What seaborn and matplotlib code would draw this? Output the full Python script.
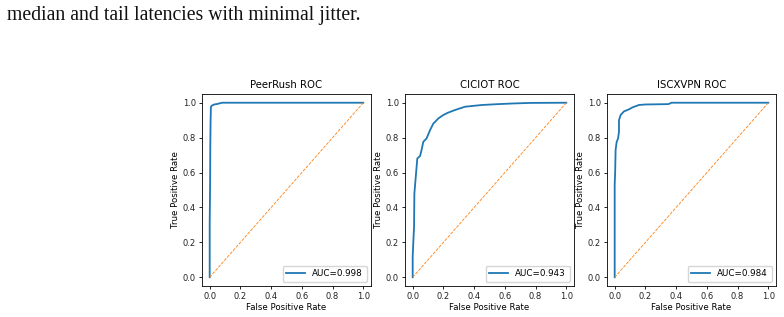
import seaborn as sns
import matplotlib.pyplot as plt

# ===== ROC points =====
titles = ["PeerRush ROC", "CICIOT ROC", "ISCXVPN ROC"]
auc_labels = ["AUC=0.998", "AUC=0.943", "AUC=0.984"]

peerrush_fpr = [0.0, 0.0, 0.003, 0.004, 0.006, 0.008, 0.012, 0.02, 0.03, 0.05, 0.08, 0.2, 1.0]
peerrush_tpr = [0.0, 0.3, 0.55, 0.75, 0.9, 0.975, 0.982, 0.986, 0.99, 0.993, 1.0, 1.0, 1.0]

ciciot_fpr = [0.0, 0.0, 0.004, 0.009, 0.011, 0.02, 0.03, 0.048, 0.058, 0.069, 0.09, 0.113,
              0.134, 0.167, 0.2, 0.23, 0.275, 0.34, 0.45, 0.556, 0.66, 0.77, 1.0]
ciciot_tpr = [0.0, 0.12, 0.2, 0.29, 0.48, 0.575, 0.68, 0.695, 0.73, 0.776, 0.795, 0.843,
              0.88, 0.91, 0.93, 0.943, 0.958, 0.977, 0.987, 0.992, 0.996, 0.999, 1.0]

iscxvpn_fpr = [0.0, 0.0, 0.003, 0.006, 0.013, 0.022, 0.028, 0.028, 0.039, 0.06, 0.093,
               0.115, 0.158, 0.2, 0.35, 0.37, 1.0]
iscxvpn_tpr = [0.0, 0.53, 0.6, 0.73, 0.776, 0.795, 0.834, 0.9, 0.93, 0.95, 0.962,
               0.973, 0.987, 0.99, 0.992, 1.0, 1.0]

curves = [(peerrush_fpr, peerrush_tpr), (ciciot_fpr, ciciot_tpr), (iscxvpn_fpr, iscxvpn_tpr)]

fig = plt.figure(figsize=(7.84, 3.17), dpi=100)

# leftover line of paper text above the figure
fig.text(0.009, 1 - 20 / 317, "median and tail latencies with minimal jitter.",
         family="Liberation Serif", fontsize=14.2, color="#111111", va="baseline")

lefts = [202, 405, 607]
for left, title, label, (fpr, tpr) in zip(lefts, titles, auc_labels, curves):
    ax = fig.add_axes([left / 784, 31 / 317, 169 / 784, 192 / 317])
    sns.lineplot(x=fpr, y=tpr, ax=ax, sort=False, estimator=None,
                 color="#1f77b4", linewidth=1.3, label=label)
    sns.lineplot(x=[0, 1], y=[0, 1], ax=ax, sort=False, estimator=None,
                 color="#ff7f0e", linestyle="--", linewidth=0.6)
    ax.set_xlim(-0.05, 1.05)
    ax.set_ylim(-0.05, 1.05)
    ax.set_xticks([0.0, 0.2, 0.4, 0.6, 0.8, 1.0])
    ax.set_yticks([0.0, 0.2, 0.4, 0.6, 0.8, 1.0])
    ax.tick_params(labelsize=6, length=2.5, width=0.6, pad=2, labelcolor="#222222")
    for s in ax.spines.values():
        s.set_linewidth(0.6)
    ax.set_title(title, fontsize=7.3, pad=4)
    ax.set_xlabel("False Positive Rate", fontsize=6.2, labelpad=1)
    ax.set_ylabel("True Positive Rate", fontsize=6.2, labelpad=2)
    ax.legend(loc="lower right", fontsize=6.3, handlelength=2.2, borderpad=0.4,
              frameon=True)

plt.savefig("out.png", dpi=100)
plt.close()
